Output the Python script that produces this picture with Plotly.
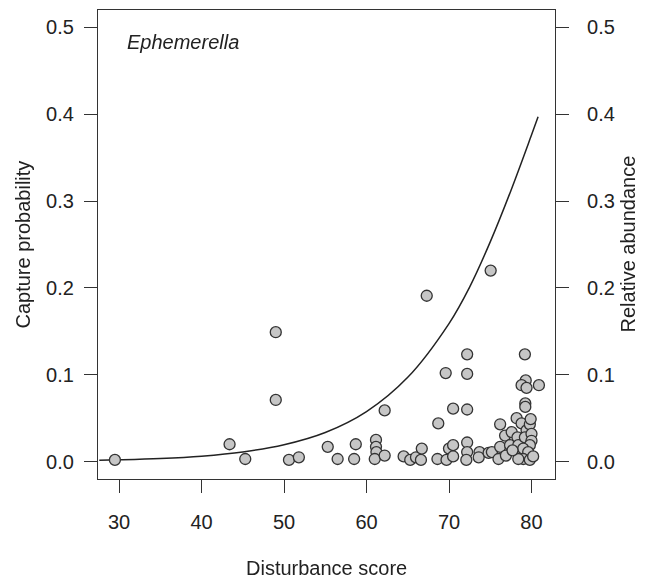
import plotly.graph_objects as go

# Observed points (Disturbance score, relative abundance)
dist_score = [29.5, 43.4, 45.3, 49.0, 49.0, 50.6, 51.8,
              55.3, 56.5, 58.7, 58.5, 61.15, 61.15, 61.2, 61.0, 62.2, 62.2, 64.5, 65.3, 66.0,
              66.7, 66.6, 68.7, 68.6, 69.7, 70.0, 70.5, 70.5, 69.6, 70.5,
              72.2, 72.2, 72.2, 72.2, 72.2, 72.1, 73.7, 73.6, 74.8, 75.2,
              76.0, 76.2, 76.2, 76.9, 76.8, 77.4, 77.6, 78.2, 78.3, 78.4,
              78.6, 78.8, 79.2, 79.3, 78.8, 79.4, 79.25, 79.25, 80.9, 79.4,
              79.2, 79.8, 79.9, 80.0, 80.0, 79.8, 79.0, 79.6, 79.0, 79.8,
              80.2, 78.4, 77.7, 67.3, 75.05]
rel_abund = [0.002, 0.020, 0.003, 0.071, 0.149, 0.002, 0.005,
             0.017, 0.003, 0.020, 0.003, 0.025, 0.017, 0.011, 0.003, 0.007, 0.059, 0.006, 0.002, 0.005,
             0.015, 0.002, 0.044, 0.003, 0.002, 0.015, 0.019, 0.006, 0.102, 0.061,
             0.1235, 0.101, 0.060, 0.022, 0.011, 0.002, 0.011, 0.005, 0.010, 0.011,
             0.003, 0.017, 0.043, 0.007, 0.030, 0.019, 0.034, 0.050, 0.028, 0.019,
             0.006, 0.044, 0.1235, 0.0935, 0.088, 0.085, 0.067, 0.063, 0.088, 0.036,
             0.028, 0.043, 0.049, 0.032, 0.024, 0.019, 0.015, 0.011, 0.003, 0.002,
             0.006, 0.003, 0.013, 0.191, 0.220]

# Fitted capture-probability curve
curve_x = [27.6, 30, 35, 40, 45, 50, 55, 60, 65, 70, 72.5, 75, 77.5, 80, 80.8]
curve_y = [0.0016, 0.0021, 0.0036, 0.0063, 0.0111, 0.0194, 0.0335, 0.0576,
           0.0971, 0.159, 0.2010, 0.253, 0.312, 0.376, 0.397]

x_ticks = [30, 40, 50, 60, 70, 80]
y_ticks = [0.0, 0.1, 0.2, 0.3, 0.4, 0.5]

FONT = "Liberation Sans, Arial, sans-serif"
FS = 20
AX = "#333333"

fig = go.Figure()
fig.add_trace(go.Scatter(x=curve_x, y=curve_y, mode="lines", line=dict(color="#222222", width=1.5, shape="spline"),
                         hoverinfo="skip", showlegend=False))
fig.add_trace(go.Scatter(x=dist_score, y=rel_abund, mode="markers",
                         marker=dict(size=11, color="#c6c6c6", line=dict(color="#333333", width=1.3)),
                         showlegend=False))
fig.add_trace(go.Scatter(x=dist_score, y=rel_abund, mode="markers", yaxis="y2", opacity=0,
                         hoverinfo="skip", showlegend=False))

axis_common = dict(showgrid=False, zeroline=False, showline=True, linecolor=AX, linewidth=1.2,
                   ticks="outside", ticklen=13, tickwidth=1.2, tickcolor=AX,
                   tickfont=dict(family=FONT, size=FS, color="#222222"))

fig.update_layout(
    width=647, height=583,
    margin=dict(l=98, r=92, t=10, b=104),
    paper_bgcolor="white", plot_bgcolor="white",
    xaxis=dict(range=[27.45, 82.85], tickvals=x_ticks, mirror=True, ticklabelstandoff=12, **axis_common),
    yaxis=dict(range=[-0.02, 0.52], tickvals=y_ticks, tickformat=".1f", ticklabelstandoff=6, **axis_common),
    yaxis2=dict(range=[-0.02, 0.52], tickvals=y_ticks, tickformat=".1f", overlaying="y", side="right",
                ticklabelstandoff=14, **axis_common),
    annotations=[
        dict(text="Disturbance score", xref="paper", yref="paper", x=0.5, y=0, yshift=-89,
             xanchor="center", yanchor="middle", showarrow=False, font=dict(family=FONT, size=FS, color="#222222")),
        dict(text="Capture probability", xref="paper", yref="paper", x=0, y=0.5, xshift=-76,
             xanchor="center", yanchor="middle", textangle=-90, showarrow=False,
             font=dict(family=FONT, size=FS, color="#222222")),
        dict(text="Relative abundance", xref="paper", yref="paper", x=1, y=0.5, xshift=72,
             xanchor="center", yanchor="middle", textangle=-90, showarrow=False,
             font=dict(family=FONT, size=FS, color="#222222")),
        dict(text="<i>Ephemerella</i>", xref="paper", yref="paper", x=0.0585, y=0.932,
             xanchor="left", yanchor="middle", showarrow=False, font=dict(family=FONT, size=FS, color="#222222")),
    ],
)

fig.write_html("out.html")
